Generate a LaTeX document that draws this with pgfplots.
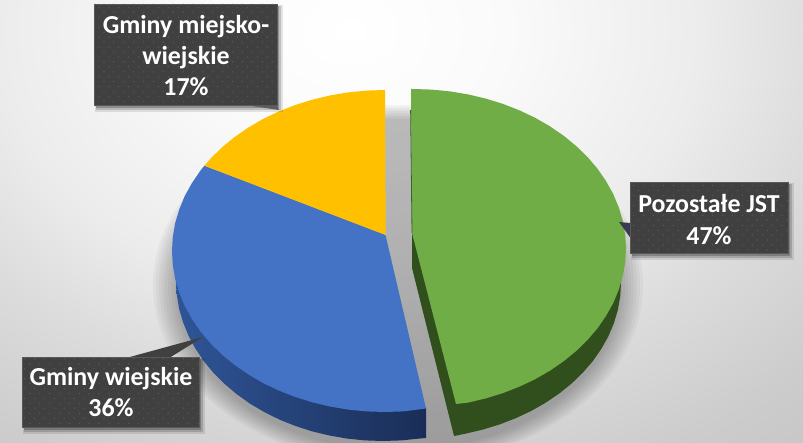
\documentclass[border=0pt]{standalone}
\usepackage{fontspec}
\setmainfont{Carlito}
\usepackage{pgfplots}
\pgfplotsset{compat=1.18}
\usetikzlibrary{patterns.meta}
\definecolor{cYel}{HTML}{FFC000}
\definecolor{cBlu}{HTML}{4472C4}
\definecolor{cGrn}{HTML}{70AD47}
\definecolor{cGrnD}{HTML}{304F1C}
\definecolor{cBox}{HTML}{404040}
\definecolor{cDot}{HTML}{545454}
\definecolor{cBluA}{HTML}{2F5597}
\definecolor{cBluB}{HTML}{284A85}
\definecolor{cBluC}{HTML}{1A2D57}
\definecolor{cBg0}{HTML}{FFFFFF}
\definecolor{cBg1}{HTML}{FAFAFA}
\definecolor{cBg2}{HTML}{ECECEC}
\definecolor{cBg3}{HTML}{DCDCDC}
\definecolor{cBg4}{HTML}{CCCCCC}
\definecolor{cBg5}{HTML}{C2C2C2}
\pgfdeclareradialshading{bgs}{\pgfpointorigin}{color(0bp)=(cBg0); color(5bp)=(cBg1); color(11bp)=(cBg2); color(15bp)=(cBg3); color(20bp)=(cBg4); color(25bp)=(cBg5); color(50bp)=(cBg5)}
\newcommand{\boxshadow}[4]{%
  \fill[black,opacity=.10] (axis cs:#1+1,#2+1) rectangle (axis cs:#3+6,#4+7);
  \fill[black,opacity=.16] (axis cs:#1+2,#2+2) rectangle (axis cs:#3+4,#4+5);
  \fill[black,opacity=.22] (axis cs:#1+2,#2+2) rectangle (axis cs:#3+2,#4+3);
}
\newcommand{\boxface}[4]{%
  \fill[cBox] (axis cs:#1,#2) rectangle (axis cs:#3,#4);
  \fill[pattern={Dots[distance=7bp,radius=0.9bp,angle=45]},pattern color=cDot] (axis cs:#1,#2) rectangle (axis cs:#3,#4);
  \draw[gray!70!black,line width=.5bp] (axis cs:#1,#2) rectangle (axis cs:#3,#4);
}
\newcommand{\softring}[2]{\fill[black,opacity=.035] (axis cs:398,285) ellipse [x radius=#1bp,y radius=#2bp];}
\begin{document}
\begin{tikzpicture}
\useasboundingbox (0,0) rectangle (803bp,443bp);
\begin{axis}[
  at={(0,0)},anchor=south west,
  width=803bp,height=443bp,scale only axis,
  xmin=0,xmax=803,ymin=0,ymax=443,y dir=reverse,
  hide axis,clip=true]
% background
\shade[shading=bgs] (axis cs:-450,-570) rectangle (axis cs:1150,630);
% clipped title descenders
\node[anchor=base,font=\fontsize{46}{46}\selectfont\bfseries,text=black!80] at (axis cs:394,-7) {g};
\node[anchor=base,font=\fontsize{46}{46}\selectfont\bfseries,text=black!80] at (axis cs:511,-7) {g};
% soft shadow of the pie
\softring{245}{180}
\softring{242}{178}
\softring{239}{176}
\softring{236}{174}
\softring{233}{172}
\softring{230}{170}
\softring{227}{168}
\softring{224}{166}
% blue side
\addplot[draw=none,left color=cBluA,middle color=cBluB,right color=cBluC] coordinates {
(426,408)(426,438)(418.9,438.6)(401,440.4)(383,441)(365,440.4)(347.1,438.6)(329.4,435.5)(312.2,431.4)(295.5,426)(279.5,419.6)(264.3,412.1)(249.9,403.6)(236.6,394.1)(224.4,383.8)(213.4,372.8)(203.7,361)(195.4,348.6)(188.5,335.7)(183.1,322.4)(179.1,308.8)(176.8,294.9)(176,281)
} -- cycle;
% blue face
\addplot[draw=none,fill=cBlu] coordinates {
(385.5,235)(426,408.5)(403.6,411.4)(385,412)(366.4,411.4)(348,409.6)(329.9,406.5)(312.2,402.3)(295,396.9)(278.5,390.4)(262.8,382.9)(248.1,374.3)(234.4,364.8)(221.8,354.5)(210.5,343.3)(200.5,331.5)(192,319)(184.8,306.1)(179.3,292.7)(175.2,279)(172.8,265)(172,251)(172.8,237)(175.2,223)(179.3,209.3)(184.8,195.9)(192,183)(200.5,170.5)(204.4,165.7)
} -- cycle;
% yellow face
\addplot[draw=none,fill=cYel] coordinates {
(385.7,235)(204.4,165.7)(210.5,158.7)(221.8,147.5)(234.4,137.2)(248.1,127.7)(262.8,119.1)(278.5,111.6)(295,105.1)(312.2,99.7)(329.9,95.5)(348,92.4)(366.4,90.6)(385,90)
} -- cycle;
% green side
\addplot[draw=none,fill=cGrnD] coordinates {
(412,233)(621,283)(620.2,296.6)(617.8,310.1)(613.8,323.4)(608.3,336.4)(601.3,348.9)(592.9,361)(583,372.5)(571.9,383.3)(559.5,393.3)(546,402.5)(531.5,410.8)(516,418.1)(499.8,424.4)(482.8,429.6)(465.4,433.7)(454,436)(412,268)
} -- cycle;
% green face
\addplot[draw=none,fill=cGrn] coordinates {
(411,89)(413,89)(431.6,89.6)(450,91.4)(468.1,94.4)(485.8,98.6)(503,103.9)(519.5,110.4)(535.2,117.8)(549.9,126.3)(563.6,135.7)(576.2,146)(587.5,157)(597.5,168.7)(606,181.1)(613.2,193.9)(618.7,207.2)(622.8,220.8)(625.2,234.6)(626,248.5)(625.2,262.4)(622.8,276.2)(618.7,289.8)(613.2,303.1)(606,315.9)(597.5,328.3)(587.5,340)(576.2,351)(563.6,361.3)(549.9,370.7)(535.2,379.2)(519.5,386.6)(503,393.1)(485.8,398.4)(468.1,402.6)(456,404)(412,233)
} -- cycle;
\addplot[cGrnD!80!cGrn,line width=.8bp] coordinates {(410.6,110)(412,233)};
% label 1
\boxshadow{94}{4}{277}{105}
\fill[cBox!85!white] (axis cs:245,105) -- (axis cs:279,110) -- (axis cs:277,105) -- cycle;
\boxface{94}{4}{277}{105}
\node[font=\fontsize{26}{31.5}\selectfont\bfseries,text=white,align=center] at (axis cs:186,55.5) {Gminy miejsko-\\wiejskie\\17\%};
% label 2
\boxshadow{22}{357}{199}{427}
\fill[cBox] (axis cs:128,357.5) -- (axis cs:203,337) -- (axis cs:170,357.5) -- cycle;
\boxface{22}{357}{199}{427}
\node[font=\fontsize{26}{31.5}\selectfont\bfseries,text=white,align=center] at (axis cs:111,392) {Gminy wiejskie\\36\%};
% label 3
\boxshadow{630}{182}{788}{253}
\fill[cBox!90!blue] (axis cs:630.5,223) -- (axis cs:619,222) -- (axis cs:630.5,238) -- cycle;
\boxface{630}{182}{788}{253}
\node[font=\fontsize{26}{31.5}\selectfont\bfseries,text=white,align=center] at (axis cs:709,219.5) {Pozostałe JST\\47\%};
\end{axis}
\end{tikzpicture}
\end{document}
